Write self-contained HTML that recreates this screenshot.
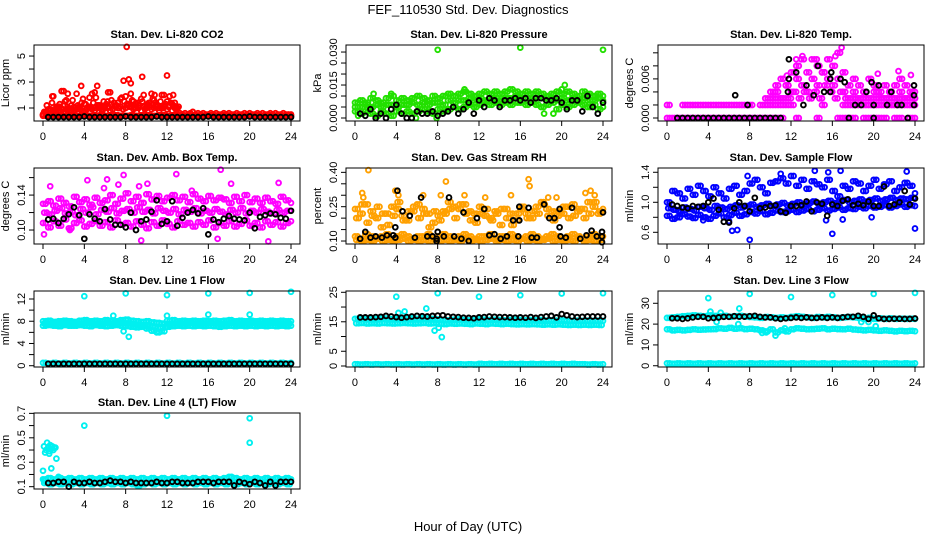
<!DOCTYPE html>
<html><head><meta charset="utf-8"><style>
body{margin:0;background:#fff;}
svg{display:block;font-family:"Liberation Sans",Arial,sans-serif;}
</style></head><body>
<svg id="chart" width="936" height="540" viewBox="0 0 936 540" xmlns="http://www.w3.org/2000/svg">
<rect width="936" height="540" fill="#fff"/>
<text x="468" y="14" font-size="13" text-anchor="middle">FEF_110530  Std. Dev. Diagnostics</text>
<text x="468" y="531" font-size="13" text-anchor="middle">Hour of Day (UTC)</text>
</svg>
<script>
// ---------- data ----------
const hourTicks=[0,4,8,12,16,20,24];
// Panel 1 CO2
const co2RedA=[0.5,0.7,0.9,0.6,1.9,0.8,1.1,0.7,2.3,1.6,0.9,1.2,0.8,2.1,1.1,1.4,1.3,0.9,1.8,2.1,1.0,2.7,1.2,0.8,1.0,1.5,2.2,0.9,1.1,1.4,1.7,0.9,1.9,1.2,2.1,1.5,1.3,1.0,1.7,2.0,1.1,1.4,2.1,1.6,1.2,1.0,2.0,1.1,1.5,1.9,1.3,1.4,1.0];
const co2RedB=[0.5,0.6,0.8,0.9,0.7,0.6,0.8,1.0,0.7,0.9,1.0,0.8,1.1,0.9,1.0,0.8,0.7,1.0,1.1,0.9,0.8,1.2,1.0,0.9,1.1,1.0,0.8,0.9,1.2,1.0,1.1,0.9,1.0,1.3,1.1,0.9,1.0,1.2,0.8,1.1,1.0,1.2,0.9,1.0,1.1,0.8,1.0,1.2,0.9,1.1,0.8,1.0,0.9];
const co2RedE=[0.7,1.2,0.9,1.4,0.8,1.0,1.3,0.9,1.5,1.1,0.8,1.6,1.0,1.2,0.9,1.7,1.3,1.1,1.0,1.4,1.8,1.2,0.9,1.5,1.3,1.1,1.6,1.4,1.2,1.0,1.8,1.5,1.3,1.1,1.6,1.0,1.4,1.2,1.5,0.9,1.3,1.1,1.7,1.4,1.2,1.5,1.0,1.3,1.1,1.4,1.2,0.9,1.1];
const co2RedC=[0.5,0.6,0.5,0.6,0.5,0.6,0.7,0.5,0.6,0.5,0.6,0.5,0.5,0.6,0.5,0.6,0.5,0.5,0.6,0.5,0.6,0.5,0.5,0.6,0.5,0.5,0.6,0.5,0.6,0.5,0.5,0.6,0.5,0.6,0.5,0.5,0.6,0.5,0.6,0.5,0.5,0.6,0.5,0.5,0.5];
const co2RedD=[0.4,0.4,0.45,0.4,0.4,0.45,0.4,0.4,0.45,0.4,0.4,0.45,0.4,0.4,0.45,0.4,0.4,0.45,0.4,0.4,0.45,0.4,0.4,0.45,0.4,0.4,0.45,0.4,0.4,0.45,0.4,0.4,0.45,0.4,0.4,0.45,0.4,0.4,0.45,0.4,0.4,0.45,0.4,0.4,0.45,0.4,0.4,0.45,0.4];
const co2RedOut=[[8.1,5.7],[9.6,3.4],[12,3.5],[7.8,3.1],[8.3,3.2],[8.5,2.9],[3.7,2.7],[1.8,2.3],[5,2.2],[0.9,1.9],[2.4,2.1],[6.3,2.2],[10.8,2.0],[11.7,2.0],[12.6,2.0],[1.3,1.1],[1.6,1.1]];
const co2Black=[0.3,0.3,0.3,0.3,0.3,0.3,0.3,0.35,0.3,0.3,0.3,0.3,0.3,0.3,0.3,0.35,0.3,0.3,0.3,0.3,0.3,0.35,0.3,0.3,0.3,0.3,0.3,0.3,0.3,0.3,0.3,0.35,0.3,0.3,0.3,0.3,0.3,0.3,0.3,0.35,0.3,0.3,0.3,0.3,0.3,0.3,0.3,0.3];
// Panel 2 pressure
const presHi=[0.007,0.008,0.007,0.009,0.008,0.007,0.009,0.010,0.008,0.009,0.008,0.009,0.010,0.009,0.008,0.010,0.009,0.010,0.011,0.010,0.011,0.012,0.011,0.010,0.011,0.012,0.011,0.012,0.011,0.012,0.013,0.012,0.011,0.012,0.011,0.012,0.011,0.010,0.011,0.012,0.011,0.012,0.011,0.010,0.012,0.011,0.010,0.011,0.010];
const presMid=[0.005,0.005,0.006,0.005,0.006,0.005,0.006,0.006,0.005,0.006,0.006,0.007,0.006,0.007,0.006,0.007,0.007,0.006,0.008,0.007,0.008,0.008,0.009,0.008,0.009,0.008,0.009,0.009,0.008,0.009,0.009,0.010,0.009,0.009,0.008,0.009,0.009,0.008,0.009,0.008,0.009,0.008,0.009,0.008,0.009,0.008,0.008,0.009,0.008];
const presLo=[0.003,0.002,0.003,0.002,0.001,0.003,0.002,0.001,0.003,0.002,0.003,0.002,0.003,0.004,0.003,0.002,0.004,0.003,0.004,0.005,0.004,0.005,0.006,0.005,0.006,0.007,0.006,0.007,0.006,0.007,0.006,0.007,0.007,0.006,0.007,0.006,0.005,0.006,0.007,0.004,0.006,0.005,0.006,0.007,0.006,0.005,0.006,0.004,0.005];
const presOut=[[8,0.031],[16,0.032],[24,0.031],[1.8,0.011],[3.5,0.011],[10.6,0.013],[20.3,0.015],[20,0.013],[18.3,0.002],[19.2,0.002],[0.3,0.001],[7.9,0.0],[5.9,0.0]];
const presBlack=[0.002,0.001,0.004,0.000,0.002,0.000,0.004,0.006,0.002,0.000,0.000,0.003,0.002,0.002,0.003,0.001,0.002,0.003,0.005,0.002,0.004,0.007,0.002,0.008,0.005,0.009,0.008,0.005,0.008,0.008,0.009,0.008,0.009,0.007,0.009,0.009,0.008,0.008,0.009,0.007,0.004,0.008,0.008,0.003,0.010,0.005,0.002,0.007];
// Panel 3 temp
const tempZero=[0,0,0,0,0,0,0,0,0,0,0,0,0,0,0,0,0,0,0,0,0,0,0,null,null,0,null,null,null,0,null,null,null,0,0,0,0,null,0,0,0,0,0,null,0,0,null,0,0];
const tempTwo=[0.002,null,null,0.002,0.002,0.002,0.002,0.002,0.002,0.002,0.002,0.002,0.002,0.002,0.002,0.002,0.002,null,0.002,0.002,0.002,0.002,0.002,0.002,0.002,null,null,null,null,null,0.002,null,null,null,0.002,0.002,0.002,0.002,0.002,0.002,0.002,0.002,0.002,0.002,0.002,0.002,0.002,0.002,0.002];
const tempUp=[0.003,0.004,0.005,0.006,0.005,0.007,0.008,0.009,0.007,0.009,0.008,0.007,0.009,0.008,0.010,0.007,0.005,0.006,0.005,0.004,0.006,0.005,0.004,0.005,0.004,0.005,0.006,0.005,0.004,0.004];
const tempMid=[0.003,0.004,0.003,0.005,0.004,0.006,0.005,0.004,0.006,0.005,0.007,0.006,0.005,0.006,0.004,0.003,0.004,0.003,0.004,0.003,0.004,0.003,0.003,0.004,0.003,0.004,0.003,0.004,0.003];
const tempLow=[0.003,0.003,0.003,0.003,0.004,0.003,0.004,0.003,0.004,0.003,0.005,0.004,0.003,0.004,0.003,0.003,0.003,0.003,0.003,0.003,0.003,0.003,0.003,0.003,0.003,0.003,0.003,0.003,0.003];
const tempOut=[[12.5,0.009],[13.1,0.0095],[16.9,0.0108],[16.3,0.0095],[14.5,0.009],[11.6,0.0065],[22.4,0.0072],[23.6,0.0066],[20.4,0.0068]];
const tempBlack0=[0,0,0,0,0,0,0,0,0,0,0,0,0,0,0,0,0,0,0,0,0];
const tempBlack=[[6.6,0.0035],[7.8,0.002],[11.8,0.009],[11.8,0.006],[11.7,0.004],[12.5,0.007],[13.2,0.002],[13.5,0.005],[14.2,0.0035],[14.6,0.008],[15.2,0.004],[15.8,0.004],[15.8,0.006],[15.9,0.007],[16.8,0.006],[17.2,0.0055],[17.6,0],[18.2,0.002],[18.8,0.002],[19.3,0.004],[19.8,0.0055],[20,0],[20,0.002],[20.5,0.005],[21.3,0.002],[21.7,0.004],[22.3,0.002],[22.7,0.002],[23.3,0],[23.9,0.005],[23.9,0.0035],[23.9,0.002]];
// Panel 4 amb box temp
const ambHi=[0.130,0.133,0.128,0.136,0.131,0.127,0.138,0.132,0.135,0.129,0.137,0.131,0.134,0.140,0.130,0.136,0.142,0.133,0.138,0.131,0.141,0.135,0.139,0.133,0.137,0.140,0.134,0.138,0.132,0.141,0.136,0.133,0.139,0.134,0.137,0.135,0.131,0.138,0.133,0.140,0.132,0.136,0.131,0.137,0.133,0.130,0.138,0.134,0.131];
const ambMid=[0.120,0.118,0.122,0.125,0.119,0.121,0.117,0.124,0.120,0.126,0.118,0.123,0.121,0.125,0.119,0.122,0.124,0.120,0.126,0.121,0.123,0.119,0.125,0.122,0.120,0.124,0.118,0.123,0.121,0.125,0.119,0.122,0.120,0.124,0.121,0.118,0.123,0.120,0.125,0.119,0.122,0.120,0.124,0.121,0.119,0.123,0.120,0.122,0.121];
const ambLo=[0.108,0.103,0.110,0.105,0.112,0.102,0.108,0.111,0.104,0.107,0.110,0.105,0.109,0.103,0.111,0.106,0.108,0.104,0.110,0.106,0.102,0.109,0.105,0.111,0.107,0.103,0.110,0.106,0.108,0.104,0.109,0.106,0.111,0.103,0.108,0.105,0.110,0.104,0.107,0.111,0.105,0.108,0.103,0.110,0.106,0.109,0.104,0.108,0.110];
const ambOut=[[0.1,0.095],[0.7,0.15],[4.3,0.157],[6.2,0.158],[7.8,0.163],[7.3,0.152],[9.5,0.088],[12.9,0.164],[17.2,0.169],[18.2,0.153],[21.8,0.087],[22.8,0.154],[16.9,0.090],[2.6,0.100],[9.3,0.150],[10.1,0.153],[5.9,0.148],[14.4,0.145]];
const ambBlack=[0.112,0.113,0.108,0.113,0.118,0.126,0.117,0.090,0.118,0.113,0.110,0.124,0.112,0.106,0.106,0.103,0.120,0.100,0.110,0.112,0.121,0.134,0.107,0.110,0.133,0.105,0.114,0.120,0.123,0.119,0.125,0.095,0.112,0.109,0.113,0.116,0.113,0.112,0.111,0.120,0.102,0.115,0.117,0.119,0.118,0.114,0.113,0.122];
// Panel 5 RH
const rhLo1=[0.12,0.11,0.13,0.12,0.11,0.12,0.13,0.11,0.12,0.13,0.12,0.11,0.12,0.12,0.13,0.11,0.12,0.13,0.12,0.11,0.12,0.13,0.12,0.11,0.12,0.12,0.13,0.11,0.12,0.12,0.13,0.12,0.11,0.12,0.13,0.12,0.11,0.12,0.13,0.12,0.11,0.12,0.13,0.12,0.11,0.12,0.13,0.12,0.12];
const rhLo2=[0.105,0.10,0.105,0.10,0.11,0.10,0.105,0.10,0.105,0.11,0.10,0.105,0.10,0.105,0.10,0.11,0.10,0.105,0.10,0.105,0.10,0.11,0.10,0.105,0.10,0.105,0.11,0.10,0.105,0.10,0.105,0.10,0.11,0.10,0.105,0.10,0.105,0.11,0.10,0.105,0.10,0.105,0.10,0.11,0.10,0.105,0.10,0.105,0.11];
const rhHi=[0.24,0.22,0.26,0.23,0.20,0.16,0.22,0.25,0.24,0.21,0.19,0.23,0.26,0.24,0.22,0.18,0.21,0.23,0.27,0.25,0.24,0.26,0.23,0.22,0.25,0.21,0.20,0.23,0.17,0.24,0.22,0.19,0.24,0.22,0.20,0.25,0.27,0.24,0.23,0.21,0.22,0.25,0.26,0.23,0.24,0.27,0.25,0.22,0.24];
const rhMid=[0.20,0.26,0.18,0.21,0.25,0.22,0.17,0.21,0.27,0.19,0.23,0.25,0.20,0.22,0.16,0.23,0.19,0.22,0.24,0.20,0.26,0.22,0.19,0.18,0.22,0.24,0.19,0.22,0.24,0.20,0.17,0.22,0.25,0.20,0.23,0.22,0.26,0.21,0.19,0.23,0.25,0.20,0.21,0.24,0.20,0.22,0.27,0.23,0.21];
const rhOut=[[1.3,0.41],[0.7,0.31],[0.8,0.29],[3.9,0.32],[8.8,0.36],[8.3,0.30],[10.6,0.30],[12.6,0.29],[16.8,0.37],[16.9,0.34],[18.7,0.29],[22.3,0.31],[22.8,0.32],[23.2,0.30],[19.5,0.29],[4.2,0.30],[6.6,0.30],[15.1,0.30]];
const rhBlack=[[0.5,0.11],[1.0,0.14],[1.5,0.115],[2.0,0.12],[2.6,0.115],[3.1,0.125],[3.7,0.125],[3.9,0.16],[3.9,0.115],[4.1,0.32],[4.6,0.23],[5.3,0.21],[5.8,0.115],[6.4,0.29],[7.0,0.12],[7.5,0.12],[7.9,0.10],[7.9,0.11],[8.0,0.14],[8.6,0.12],[9.1,0.29],[9.6,0.12],[10.3,0.11],[10.5,0.225],[11.0,0.10],[11.8,0.20],[12.5,0.24],[13.0,0.125],[13.5,0.13],[14.1,0.11],[14.7,0.12],[15.3,0.19],[15.8,0.12],[15.9,0.25],[15.9,0.19],[16.8,0.245],[17.1,0.115],[17.6,0.115],[18.3,0.26],[18.8,0.20],[19.3,0.20],[19.8,0.16],[19.9,0.12],[19.8,0.24],[20.4,0.115],[21.0,0.245],[21.8,0.11],[22.4,0.125],[22.9,0.145],[23.4,0.12],[23.9,0.14],[23.9,0.12],[23.9,0.095],[24.0,0.225]];
// Panel 6 sample flow
const sfLo=[0.82,0.78,0.80,0.84,0.81,0.79,0.83,0.80,0.78,0.82,0.85,0.80,0.83,0.86,0.82,0.84,0.87,0.85,0.88,0.84,0.86,0.89,0.87,0.88,0.90,0.87,0.89,0.91,0.88,0.90,0.92,0.89,0.91,0.93,0.90,0.92,0.91,0.94,0.92,0.95,0.93,0.94,0.96,0.93,0.95,0.97,0.94,0.96,0.95];
const sfMid=[0.92,0.90,0.88,0.93,0.91,0.89,0.94,0.92,0.90,0.95,0.93,0.91,0.94,0.96,0.93,0.95,0.97,0.94,0.96,0.98,0.95,0.97,0.99,0.96,0.98,1.00,0.97,0.99,1.01,0.98,1.00,1.02,0.99,1.01,1.03,1.00,1.02,1.04,1.01,1.03,1.05,1.02,1.04,1.06,1.03,1.05,1.04,1.06,1.05];
const sfHi=[1.00,1.15,1.12,1.05,1.18,1.10,1.22,1.15,1.08,1.20,1.12,1.05,1.18,1.22,1.10,1.15,1.25,1.30,1.20,1.12,1.26,1.28,1.32,1.25,1.35,1.22,1.30,1.18,1.28,1.24,1.20,1.30,1.15,1.08,1.22,1.18,1.28,1.25,1.15,1.22,1.30,1.18,1.24,1.28,1.15,1.20,1.26,1.22,1.12];
const sfOut=[[8,0.50],[6.3,0.62],[6.8,0.63],[24,0.65],[16,0.58],[14.3,1.42],[16.8,1.42],[23.2,1.41],[15.6,1.40],[7.8,1.35],[11,1.38],[19.8,0.80],[15.4,0.76],[17,0.77],[6,0.75],[3.5,0.76]];
const sfBlack=[0.97,0.95,0.93,0.92,0.95,0.94,0.95,1.00,1.05,0.90,0.74,0.73,0.92,1.00,0.95,0.88,1.06,0.92,0.93,0.95,0.96,0.88,0.86,0.95,0.95,0.96,1.01,0.88,1.00,0.98,0.82,0.97,0.95,1.02,1.04,0.96,0.98,0.96,1.01,0.95,0.95,1.21,0.95,0.97,1.00,1.15,0.97,1.05];
// Panel 7 line 1
const l1Hi=[8.0,8.1,7.9,8.0,8.1,8.0,7.9,8.1,8.2,8.0,8.1,8.0,8.2,8.1,8.0,8.2,8.3,8.1,8.0,7.9,8.0,7.8,7.7,7.6,8.1,8.2,8.0,8.1,8.0,8.1,8.0,8.1,8.0,8.1,8.0,8.1,8.2,8.0,8.1,8.0,8.1,8.0,8.1,8.0,8.1,8.0,8.1,8.0,8.0];
const l1Mid=[7.6,7.6,7.5,7.6,7.7,7.6,7.5,7.6,7.7,7.6,7.6,7.5,7.7,7.6,7.6,7.7,7.6,7.5,7.4,7.3,7.2,7.0,6.8,6.9,7.5,7.6,7.6,7.6,7.7,7.6,7.6,7.6,7.7,7.6,7.5,7.6,7.7,7.6,7.6,7.6,7.7,7.6,7.6,7.6,7.7,7.6,7.6,7.6,7.6];
const l1Lo=[7.2,7.3,7.2,7.1,7.3,7.2,7.2,7.3,7.2,7.1,7.3,7.2,7.1,7.2,7.3,7.2,7.1,7.0,6.9,7.0,6.7,6.3,6.0,6.2,7.0,7.1,7.2,7.1,7.2,7.1,7.2,7.1,7.2,7.1,7.0,7.1,7.2,7.1,7.2,7.1,7.2,7.1,7.2,7.1,7.2,7.1,7.2,7.1,7.2];
const l1Out=[[4,12.5],[8,13],[12,12.7],[16,13],[20,13.1],[24,13.3],[6.8,9],[12,9],[16,9.2],[20,9.2],[7.8,6.2],[8.3,5.2]];
const l1Base=[0.5,0.4,0.5,0.4,0.5,0.4,0.5,0.4,0.5,0.4,0.5,0.4,0.5,0.4,0.5,0.4,0.5,0.4,0.5,0.4,0.5,0.4,0.5,0.4,0.5,0.4,0.5,0.4,0.5,0.4,0.5,0.4,0.5,0.4,0.5,0.4,0.5,0.4,0.5,0.4,0.5,0.4,0.5,0.4,0.5,0.4,0.5,0.4,0.5];
const l1Black=[0.35,0.35,0.35,0.35,0.35,0.35,0.35,0.35,0.35,0.35,0.35,0.35,0.35,0.35,0.35,0.35,0.35,0.35,0.35,0.35,0.35,0.35,0.35,0.35,0.35,0.35,0.35,0.35,0.35,0.35,0.35,0.35,0.35,0.35,0.35,0.35,0.35,0.35,0.35,0.35,0.35,0.35,0.35,0.35,0.35,0.35,0.35,0.35];
// Panel 8 line 2
const l2Hi=[16.0,16.2,15.9,16.1,16.0,16.2,16.1,15.9,16.2,16.0,16.1,16.2,16.0,16.3,16.1,16.0,15.8,15.6,15.5,15.7,15.8,15.6,15.5,15.7,15.9,15.7,15.6,15.7,15.6,15.5,15.6,15.7,15.6,15.5,15.6,15.5,15.6,15.4,15.5,15.4,15.5,15.4,15.3,15.4,15.3,15.4,15.3,15.4,15.3];
const l2Lo=[14.5,14.6,14.4,14.5,14.4,14.6,14.5,14.4,14.5,14.6,14.5,14.4,14.5,14.6,14.4,14.5,14.3,14.2,14.4,14.3,14.4,14.3,14.2,14.4,14.3,14.2,14.4,14.3,14.2,14.3,14.2,14.1,14.2,14.1,14.2,14.1,14.0,14.1,14.0,14.1,14.0,13.9,14.0,13.9,14.0,13.9,14.0,13.9,14.0];
const l2Base=[0.6,0.5,0.6,0.5,0.6,0.5,0.6,0.5,0.6,0.5,0.6,0.5,0.6,0.5,0.6,0.5,0.6,0.5,0.6,0.5,0.6,0.5,0.6,0.5,0.7,0.6,0.7,0.6,0.7,0.6,0.7,0.6,0.7,0.6,0.7,0.6,0.7,0.6,0.7,0.6,0.7,0.6,0.7,0.6,0.6,0.5,0.6,0.5,0.6];
const l2Out=[[4,23.5],[8,24.7],[12,23.5],[16,24],[20,24.6],[24,24.7],[4.2,18],[4.8,18.5],[6.9,19.5],[7.7,12],[8.4,9.8],[8.1,13]];
const l2Black=[16.5,16.5,16.5,16.6,16.7,17.0,16.8,16.6,16.4,16.6,16.8,17.0,16.9,16.8,17.0,17.1,17.2,16.8,16.7,16.6,16.4,16.3,16.2,16.5,16.6,16.8,16.7,16.6,16.6,16.5,16.4,16.5,16.4,16.6,16.3,16.6,16.8,17.0,16.5,17.6,17.2,16.8,16.6,16.7,16.8,16.8,16.8,16.8];
// Panel 9 line 3
const l3Top=[23.0,23.2,23.5,23.8,24.0,24.2,24.0,23.8,24.2,24.0,23.8,24.0,23.5,23.8,24.0,23.6,23.4,23.2,23.0,23.4,23.2,23.0,23.2,23.0,23.5,23.8,23.5,23.2,23.0,23.4,23.2,23.5,23.2,23.0,23.2,23.4,23.2,23.0,22.5,23.0,22.5,22.8,22.5,22.8,22.5,22.6,22.5,22.6,22.5];
const l3Mid=[17.5,17.0,17.2,17.0,17.2,17.5,17.3,17.4,17.5,17.6,18.0,17.8,18.2,17.8,18.0,17.6,17.8,17.5,17.0,16.5,17.5,16.0,17.0,16.5,17.5,18.0,17.8,17.5,17.6,17.8,18.0,17.5,17.8,17.6,17.5,17.8,17.4,17.2,17.0,17.2,17.0,16.8,17.0,16.8,16.5,16.8,16.6,16.8,16.6];
const l3Base=[1.2,1.0,1.2,1.0,1.2,1.0,1.2,1.0,1.2,1.0,1.2,1.0,1.2,1.0,1.2,1.0,1.2,1.0,1.2,1.0,1.2,1.0,1.2,1.0,1.2,1.0,1.2,1.0,1.2,1.0,1.2,1.0,1.2,1.0,1.2,1.0,1.2,1.0,1.2,1.0,1.2,1.0,1.2,1.0,1.2,1.0,1.2,1.0,1.2];
const l3Out=[[4,32.5],[8,34.5],[12,33],[16,34],[20,34.5],[24,35],[4.2,26],[5.2,25.5],[7,27.5],[6.9,20],[10.5,14.5],[4.8,21],[9.6,16],[9.2,15.8],[11.4,18],[19.5,21],[20.2,19],[18.8,21]];
const l3Black=[22.8,22.8,22.5,22.8,23.2,23.5,23.5,22.8,23.0,23.2,23.5,23.5,23.8,23.6,23.6,23.8,24.0,23.5,23.2,23.2,22.8,22.5,22.8,23.0,23.2,23.0,23.2,23.0,23.0,23.2,23.0,23.2,23.0,23.2,23.5,23.5,24.0,23.5,22.5,24.2,22.8,22.5,22.5,22.6,22.6,22.5,22.5,22.7];
// Panel 10 line 4
const l4Hi=[0.16,0.17,0.16,0.17,0.16,0.17,0.16,0.17,0.16,0.17,0.16,0.17,0.16,0.17,0.16,0.17,0.16,0.17,0.16,0.17,0.16,0.17,0.16,0.17,0.16,0.17,0.16,0.17,0.16,0.17,0.16,0.17,0.16,0.17,0.16,0.17,0.18,0.17,0.16,0.17,0.16,0.17,0.16,0.17,0.16,0.17,0.16,0.17,0.16];
const l4Lo=[0.13,0.12,0.13,0.12,0.13,0.12,0.13,0.12,0.13,0.12,0.13,0.12,0.13,0.12,0.13,0.12,0.13,0.12,0.11,0.12,0.13,0.12,0.13,0.12,0.13,0.12,0.13,0.12,0.13,0.12,0.13,0.12,0.13,0.12,0.13,0.12,0.13,0.12,0.13,0.12,0.13,0.12,0.13,0.12,0.13,0.12,0.13,0.12,0.13];
const l4Out=[[4,0.6],[12,0.68],[20,0.66],[20,0.46],[0,0.23],[0.8,0.25],[1.3,0.33],[1.5,0.18],[0.1,0.43],[0.3,0.40],[0.4,0.46],[0.5,0.42],[0.6,0.39],[0.7,0.44],[0.8,0.41],[0.9,0.43],[1.0,0.40],[1.1,0.42],[1.2,0.42],[0.2,0.38],[0.6,0.37],[0.1,0.15]];
const l4Black=[0.13,0.13,0.14,0.14,0.10,0.14,0.13,0.13,0.14,0.13,0.13,0.14,0.15,0.14,0.14,0.13,0.14,0.13,0.13,0.13,0.13,0.14,0.13,0.13,0.14,0.14,0.13,0.13,0.13,0.14,0.14,0.14,0.13,0.14,0.14,0.14,0.11,0.14,0.13,0.12,0.14,0.13,0.11,0.14,0.11,0.14,0.14,0.14];
// Y tick arrays
const co2Ticks=[1,2,3,4,5], co2Labels=["1","3","5"];
const presTicks=[0,0.005,0.01,0.015,0.02,0.025,0.03], presLabels=["0.000","0.015","0.030"];
const tempTicks=[0,0.002,0.004,0.006,0.008,0.010], tempLabels=["0.000","0.006"];
const ambTicks=[0.10,0.12,0.14,0.16], ambLabels=["0.10","0.14"];
const rhTicks=[0.10,0.15,0.20,0.25,0.30,0.35,0.40], rhLabels=["0.10","0.25","0.40"];
const sfTicks=[0.6,0.8,1.0,1.2,1.4], sfLabels=["0.6","1.0","1.4"];
const l1Ticks=[0,2,4,6,8,10,12], l1Labels=["0","4","8","12"];
const l2Ticks=[0,5,10,15,20,25], l2Labels=["0","5","15","25"];
const l3Ticks=[0,10,20,30], l3Labels=["0","10","20","30"];
const l4Ticks=[0.1,0.2,0.3,0.4,0.5,0.6,0.7], l4Labels=["0.1","0.3","0.5","0.7"];

// ---------- layout ----------
const RED="#ff0000",GRN="#22e000",MAG="#ff00ff",BLU="#0000ff",CYA="#00f0f0",ORG="#ffa000",BLK="#000000";
const colX=[34,346,658], rowY=[45,168,291,413], PW=266, PH=76;
const panels=[
 {name:"co2",title:"Stan. Dev. Li-820 CO2",yl:"Licor ppm",c:0,r:0,dom:[0,5.85],ticks:co2Ticks,labels:co2Labels,
  ser:[{y:co2RedB,x0:0,st:0.25,col:RED},{y:co2RedA,x0:0,st:0.25,col:RED},{y:co2RedE,x0:0.12,st:0.25,col:RED},{y:co2RedC,x0:13,st:0.25,col:RED},{y:co2RedD,x0:0,st:0.5,col:RED,dense:1},{p:co2RedOut,col:RED},{y:co2Black,x0:0.5,st:0.5,col:BLK}]},
 {name:"pressure",title:"Stan. Dev. Li-820 Pressure",yl:"kPa",c:1,r:0,dom:[-0.00136,0.0332],ticks:presTicks,labels:presLabels,
  ser:[{y:presHi,x0:0,st:0.5,col:GRN,dense:1},{y:presMid,x0:0,st:0.5,col:GRN,dense:1},{y:presLo,x0:0,st:0.5,col:GRN,dense:1},{p:presOut,col:GRN},{y:presBlack,x0:0.5,st:0.5,col:BLK}]},
 {name:"temp",title:"Stan. Dev. Li-820 Temp.",yl:"degrees C",c:2,r:0,dom:[-0.00046,0.0112],ticks:tempTicks,labels:tempLabels,
  ser:[{y:tempZero,x0:0,st:0.5,col:MAG,dense:1},{y:tempTwo,x0:0,st:0.5,col:MAG,dense:1},{y:tempUp,x0:9.5,st:0.5,col:MAG,dense:1},{y:tempMid,x0:10,st:0.5,col:MAG,dense:1},{y:tempLow,x0:10.25,st:0.5,col:MAG,dense:1},{p:tempOut,col:MAG},{y:tempBlack0,x0:1,st:0.5,col:BLK},{p:tempBlack,col:BLK}]},
 {name:"amb-box-temp",title:"Stan. Dev. Amb. Box Temp.",yl:"degrees C",c:0,r:1,dom:[0.084,0.171],ticks:ambTicks,labels:ambLabels,
  ser:[{y:ambHi,x0:0,st:0.5,col:MAG,dense:1},{y:ambMid,x0:0.12,st:0.5,col:MAG,dense:1},{y:ambLo,x0:0,st:0.5,col:MAG,dense:1},{p:ambOut,col:MAG},{y:ambBlack,x0:0.5,st:0.5,col:BLK}]},
 {name:"gas-stream-rh",title:"Stan. Dev. Gas Stream RH",yl:"percent",c:1,r:1,dom:[0.087,0.419],ticks:rhTicks,labels:rhLabels,
  ser:[{y:rhLo1,x0:0,st:0.5,col:ORG,dense:1},{y:rhLo2,x0:0.12,st:0.5,col:ORG,dense:1},{y:rhHi,x0:0,st:0.5,col:ORG,dense:1},{y:rhMid,x0:0.12,st:0.5,col:ORG,dense:1},{p:rhOut,col:ORG},{p:rhBlack,col:BLK}]},
 {name:"sample-flow",title:"Stan. Dev. Sample Flow",yl:"ml/min",c:2,r:1,dom:[0.444,1.457],ticks:sfTicks,labels:sfLabels,
  ser:[{y:sfLo,x0:0,st:0.5,col:BLU,dense:1},{y:sfMid,x0:0.12,st:0.5,col:BLU,dense:1},{y:sfHi,x0:0,st:0.5,col:BLU,dense:1},{p:sfOut,col:BLU},{y:sfBlack,x0:0.5,st:0.5,col:BLK}]},
 {name:"line1-flow",title:"Stan. Dev. Line 1 Flow",yl:"ml/min",c:0,r:2,dom:[-0.23,13.44],ticks:l1Ticks,labels:l1Labels,
  ser:[{y:l1Hi,x0:0,st:0.5,col:CYA,dense:1},{y:l1Mid,x0:0.12,st:0.5,col:CYA,dense:1},{y:l1Lo,x0:0,st:0.5,col:CYA,dense:1},{p:l1Out,col:CYA},{y:l1Base,x0:0,st:0.5,col:CYA,dense:1},{y:l1Black,x0:0.5,st:0.5,col:BLK}]},
 {name:"line2-flow",title:"Stan. Dev. Line 2 Flow",yl:"ml/min",c:1,r:2,dom:[-0.34,25.44],ticks:l2Ticks,labels:l2Labels,
  ser:[{y:l2Hi,x0:0,st:0.5,col:CYA,dense:1},{y:l2Lo,x0:0.12,st:0.5,col:CYA,dense:1},{y:l2Base,x0:0,st:0.5,col:CYA,dense:1},{p:l2Out,col:CYA},{y:l2Black,x0:0.5,st:0.5,col:BLK}]},
 {name:"line3-flow",title:"Stan. Dev. Line 3 Flow",yl:"ml/min",c:2,r:2,dom:[-0.6,35.9],ticks:l3Ticks,labels:l3Labels,
  ser:[{y:l3Top,x0:0,st:0.5,col:CYA,dense:1},{y:l3Mid,x0:0,st:0.5,col:CYA,dense:1},{y:l3Base,x0:0,st:0.5,col:CYA,dense:1},{p:l3Out,col:CYA},{y:l3Black,x0:0.5,st:0.5,col:BLK}]},
 {name:"line4-flow",title:"Stan. Dev. Line 4 (LT) Flow",yl:"ml/min",c:0,r:3,dom:[0.081,0.703],ticks:l4Ticks,labels:l4Labels,
  ser:[{y:l4Hi,x0:0,st:0.5,col:CYA,dense:1},{y:l4Lo,x0:0.12,st:0.5,col:CYA,dense:1},{p:l4Out,col:CYA},{y:l4Black,x0:0.5,st:0.5,col:BLK}]}
];

const NS="http://www.w3.org/2000/svg";
const svg=document.getElementById('chart');
function mk(tag,attrs,parent){const e=document.createElementNS(NS,tag);for(const k in attrs)e.setAttribute(k,attrs[k]);(parent||svg).appendChild(e);return e;}

panels.forEach(pn=>{
  const L=colX[pn.c], T=rowY[pn.r];
  const xs=h=>L+(h+0.87)/25.74*PW;
  const ys=v=>T+PH-(v-pn.dom[0])/(pn.dom[1]-pn.dom[0])*PH;
  const g=mk('g',{});
  
  
  const t=mk('text',{x:L+PW/2,y:T-7,'font-size':11,'font-weight':'bold','text-anchor':'middle'},g);
  t.textContent=pn.title;
  
  
  const yt=mk('text',{x:L-25,y:T+PH/2,'font-size':11,'text-anchor':'middle',transform:`rotate(-90 ${L-25} ${T+PH/2})`},g);
  yt.textContent=pn.yl;
  
  
  const pg=mk('g',{fill:'none','stroke-width':1.9},g);
  
  
  pn.ser.forEach(s=>{
    let pts=s.p?s.p:s.y.map((v,i)=>[s.x0+i*s.st,v]);
    if(s.dense) pts=pts.concat(s.y.map((v,i)=>[s.x0+i*s.st+s.st/2,v]));
    pts.forEach(([h,v])=>{
      if(v===null||h>24.05)return;
      const c=mk('circle',{cx:xs(h).toFixed(1),cy:ys(v).toFixed(1),r:2.4,stroke:s.col},pg);
      
      
    });
  });
  const box=mk('rect',{x:L,y:T,width:PW,height:PH,fill:'none',stroke:'#000','stroke-width':1},g);
  
  
  hourTicks.forEach(h=>{
    const x=xs(h);
    const tk=mk('line',{x1:x,x2:x,y1:T+PH,y2:T+PH+5,stroke:'#000'},g);
    
    
    const tl=mk('text',{x:x,y:T+PH+19,'font-size':11,'text-anchor':'middle'},g);
    tl.textContent=String(h);
    
    
  });
  pn.ticks.forEach(v=>{
    const y=ys(v);
    const tk=mk('line',{x1:L-5,x2:L,y1:y,y2:y,stroke:'#000'},g);
    
    
  });
  pn.labels.forEach(lb=>{
    const y=ys(parseFloat(lb));
    const tl=mk('text',{x:L-9,y:y,'font-size':11,'text-anchor':'middle',transform:`rotate(-90 ${L-9} ${y})`},g);
    tl.textContent=lb;
    
    
  });
});
</script>
</body></html>
